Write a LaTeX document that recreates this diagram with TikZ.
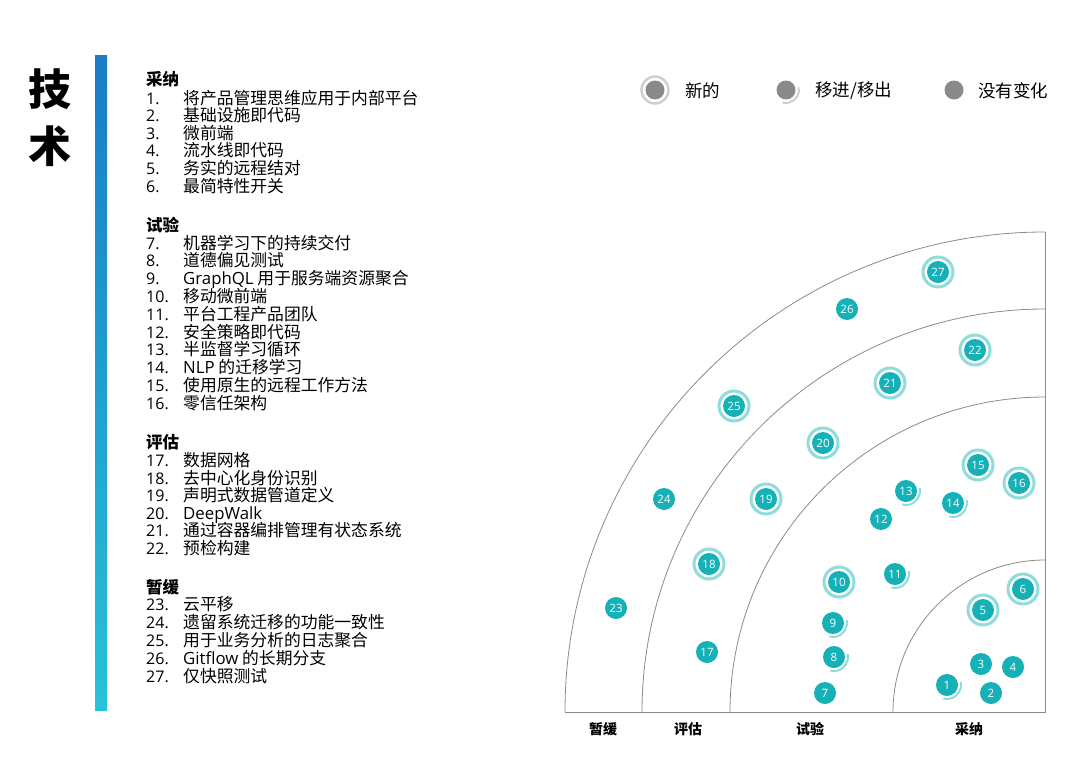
\documentclass[tikz,border=0pt]{standalone}
\usepackage{fontspec}
\setmainfont{Noto Sans CJK SC}
\newfontfamily\lat{Open Sans}
\definecolor{teal1}{HTML}{15B1B7}
\definecolor{ringc}{HTML}{8EDDDA}
\definecolor{framec}{HTML}{8A8A8A}
\definecolor{legg}{HTML}{8A8A8A}
\definecolor{legr}{HTML}{CFCFCF}
\definecolor{bartop}{HTML}{1A7CC6}
\definecolor{barbot}{HTML}{27C2D8}
\tikzset{
  blip/.style={circle, fill=teal1, text=white, minimum size=22pt, inner sep=0pt, font=\lat\fontsize{11.5}{11.5}\selectfont},
  newring/.style={draw=ringc, line width=3pt},
  movarc/.style={draw=ringc, line width=2pt},
  legdot/.style={circle, fill=legg, minimum size=19pt, inner sep=0pt},
  legtxt/.style={anchor=west, font=\fontsize{17.5}{18}\selectfont, inner sep=0pt},
  frame/.style={draw=framec, line width=0.8pt},
  num/.style={anchor=base west, inner sep=0pt, font=\lat\fontsize{16}{17}\selectfont},
  itm/.style={anchor=base west, inner sep=0pt, font=\fontsize{16.8}{17}\selectfont},
  head/.style={anchor=base west, inner sep=0pt, font=\fontsize{16.5}{17}\selectfont\bfseries},
  ringlbl/.style={font=\fontsize{14}{15}\selectfont\bfseries, inner sep=0pt},
}
\newcommand\lrow[3]{%
  \node[num] (n#1) at (146,#2+6) {#1.};
  \node[itm] (t#1) at (183,#2+6) {#3};}
\newcommand\blipn[3]{%
  \node[blip] (b#1) at (#2,#3) {#1};
  \draw[newring] (b#1.center) circle[radius=15];}
\newcommand\blipm[3]{%
  \node[blip] (b#1) at (#2,#3) {#1};
  \draw[movarc] (b#1.center) ++(-12:14) arc[start angle=-12, end angle=105, radius=14];}
\newcommand\blipu[3]{%
  \node[blip] (b#1) at (#2,#3) {#1};}
\begin{document}
\begin{tikzpicture}[x=1pt,y=-1pt]
\useasboundingbox (0,0) rectangle (1080,763);
% title
\node[font=\fontsize{43}{44}\selectfont\bfseries, inner sep=0pt] (title1) at (50,89) {技};
\node[font=\fontsize{43}{44}\selectfont\bfseries, inner sep=0pt] (title2) at (50,146) {术};
% bar
\shade[top color=bartop, bottom color=barbot] (95,55) rectangle (107,710);
% list
\node[head] (h1) at (146,79+6) {采纳};
\lrow{1}{98}{将产品管理思维应用于内部平台}
\lrow{2}{115.6}{基础设施即代码}
\lrow{3}{133.2}{微前端}
\lrow{4}{150.8}{流水线即代码}
\lrow{5}{168.4}{务实的远程结对}
\lrow{6}{186}{最简特性开关}
\node[head] (h2) at (146,225+6) {试验};
\lrow{7}{243}{机器学习下的持续交付}
\lrow{8}{260.8}{道德偏见测试}
\lrow{9}{278.6}{{\lat GraphQL} 用于服务端资源聚合}
\lrow{10}{296.4}{移动微前端}
\lrow{11}{314.2}{平台工程产品团队}
\lrow{12}{332}{安全策略即代码}
\lrow{13}{349.8}{半监督学习循环}
\lrow{14}{367.6}{{\lat NLP} 的迁移学习}
\lrow{15}{385.4}{使用原生的远程工作方法}
\lrow{16}{403.2}{零信任架构}
\node[head] (h3) at (146,442+6) {评估};
\lrow{17}{460.5}{数据网格}
\lrow{18}{478}{去中心化身份识别}
\lrow{19}{495.5}{声明式数据管道定义}
\lrow{20}{513}{{\lat DeepWalk}}
\lrow{21}{530.5}{通过容器编排管理有状态系统}
\lrow{22}{548}{预检构建}
\node[head] (h4) at (146,587+6) {暂缓};
\lrow{23}{604.5}{云平移}
\lrow{24}{622.5}{遗留系统迁移的功能一致性}
\lrow{25}{640.5}{用于业务分析的日志聚合}
\lrow{26}{658.5}{{\lat Gitflow} 的长期分支}
\lrow{27}{676.5}{仅快照测试}
% legend
\node[legdot] (lg1) at (655,90) {};
\draw[draw=legr, line width=2.5pt] (lg1.center) circle[radius=13.5];
\node[legtxt] (lt1) at (685,91) {新的};
\node[legdot] (lg2) at (786,90) {};
\draw[draw=legr, line width=2pt] (lg2.center) ++(-12:13) arc[start angle=-12, end angle=105, radius=13];
\node[legtxt] (lt2) at (815,91) {移进/移出};
\node[legdot] (lg3) at (954,90) {};
\node[legtxt] (lt3) at (978,91) {没有变化};
% radar frame
\coordinate (c) at (1045,712);
\coordinate (bl) at (565,712);
\coordinate (tr) at (1045,232);
\draw[frame] (bl) -- (c) -- (tr);
\draw[frame] (c) ++(180:152) arc[start angle=180, end angle=270, radius=152];
\draw[frame] (c) ++(180:315) arc[start angle=180, end angle=270, radius=315];
\draw[frame] (c) ++(180:403) arc[start angle=180, end angle=270, radius=403];
\draw[frame] (c) ++(180:480) arc[start angle=180, end angle=270, radius=480];
% ring labels
\node[ringlbl] (r4) at (603,729) {暂缓};
\node[ringlbl] (r3) at (688,729) {评估};
\node[ringlbl] (r2) at (810,729) {试验};
\node[ringlbl] (r1) at (969,729) {采纳};
% blips
\blipm{1}{947}{685}
\blipu{2}{991}{693}
\blipu{3}{981}{664}
\blipu{4}{1013}{667}
\blipn{5}{983}{610}
\blipn{6}{1023}{589}
\blipu{7}{825}{693}
\blipm{8}{834}{657}
\blipm{9}{833}{623}
\blipn{10}{839}{582}
\blipm{11}{895}{574}
\blipu{12}{881}{519}
\blipm{13}{906}{491}
\blipm{14}{953}{503}
\blipn{15}{978}{465}
\blipn{16}{1019}{483}
\blipu{17}{707}{652}
\blipn{18}{709}{564}
\blipn{19}{766}{499}
\blipn{20}{823}{443}
\blipn{21}{890}{383}
\blipn{22}{975}{350}
\blipu{23}{616}{608}
\blipu{24}{664}{499}
\blipn{25}{734}{406}
\blipu{26}{847}{309}
\blipn{27}{938}{272}
\end{tikzpicture}
\end{document}
